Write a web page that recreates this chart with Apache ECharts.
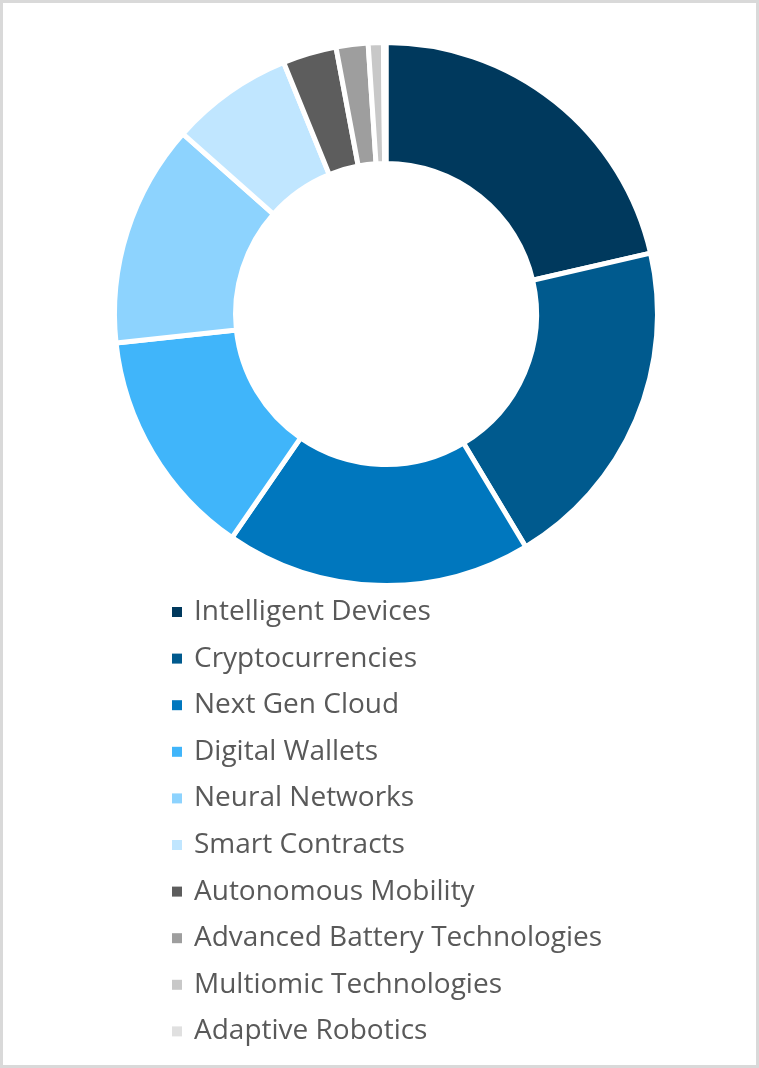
<!DOCTYPE html>
<html>
<head>
<meta charset="utf-8">
<script src="https://cdn.jsdelivr.net/npm/echarts@6/dist/echarts.min.js"></script>
<style>
  html, body { margin: 0; padding: 0; background: #fff; }
  #chart { width: 759px; height: 1068px; }
</style>
</head>
<body>
<div id="chart"></div>
<script>
const categories = [
  'Intelligent Devices',
  'Cryptocurrencies',
  'Next Gen Cloud',
  'Digital Wallets',
  'Neural Networks',
  'Smart Contracts',
  'Autonomous Mobility',
  'Advanced Battery Technologies',
  'Multiomic Technologies',
  'Adaptive Robotics'
];
const values = [21.4, 20.0, 18.2, 13.7, 13.25, 7.3, 3.2, 1.9, 0.9, 0.15];
const colors = ['#00395D', '#005A8E', '#0077BE', '#40B5FA', '#8DD3FE', '#C0E6FF', '#5D5D5D', '#9E9E9E', '#C8C8C8', '#E0E0E0'];

const chart = echarts.init(document.getElementById('chart'), null, { renderer: 'canvas' });
chart.setOption({
  animation: false,
  backgroundColor: '#fff',
  color: colors,
  graphic: [{
    type: 'rect',
    silent: true,
    shape: { x: 1.5, y: 1.5, width: 756, height: 1065 },
    style: { fill: 'none', stroke: '#D9D9D9', lineWidth: 3 }
  }],
  legend: {
    orient: 'vertical',
    left: 172,
    top: 597,
    padding: 0,
    icon: 'rect',
    itemWidth: 10,
    itemHeight: 10,
    itemGap: 16.6,
    itemStyle: { borderWidth: 0 },
    selectedMode: false,
    textStyle: {
      fontFamily: 'Open Sans',
      fontSize: 28,
      lineHeight: 30,
      color: '#595959',
      padding: [0, 0, 0, 7]
    },
    data: categories
  },
  series: [{
    type: 'pie',
    center: [386, 314],
    radius: [150.5, 271.5],
    startAngle: 90,
    clockwise: true,
    label: { show: false },
    labelLine: { show: false },
    emphasis: { disabled: true },
    itemStyle: { borderColor: '#FFFFFF', borderWidth: 5 },
    data: categories.map((name, i) => ({ name: name, value: values[i] }))
  }]
});
</script>
</body>
</html>
